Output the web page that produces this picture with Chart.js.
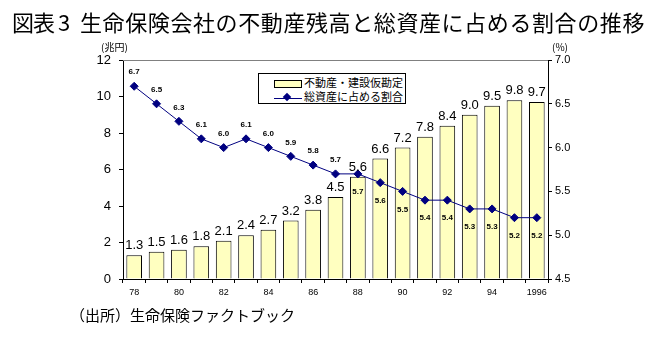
<!DOCTYPE html>
<html>
<head>
<meta charset="utf-8">
<script src="https://cdn.jsdelivr.net/npm/chart.js@4/dist/chart.umd.min.js"></script>
<style>
  html, body { margin: 0; padding: 0; background: #fff; }
  #wrap { position: relative; width: 650px; height: 337px; overflow: hidden; }
  #chart { position: absolute; left: 0; top: 0; }
  .txt { position: absolute; font-family: "Noto Sans CJK JP", sans-serif; color: #000; white-space: nowrap; }
  .title { top: 5px; font-size: 22px; line-height: 32px; letter-spacing: 0.6px; }
  #source { left: 70px; top: 304px; font-size: 15px; }
  #legend { position: absolute; left: 258px; top: 73px; width: 146px; height: 29px; border: 1px solid #000; background: #fff;
            font-family: "Noto Sans CJK JP", sans-serif; font-size: 11px; }
  .row { position: absolute; left: 15px; height: 14px; line-height: 14px; }
  .sw { display: inline-block; width: 26px; height: 6px; background: #ffffc0; border: 1px solid #000; vertical-align: middle; margin-right: 2px; }
  .ln { display: inline-block; position: relative; width: 28px; height: 1px; background: #000080; vertical-align: middle; margin-right: 2px; }
  .ln i { position: absolute; left: 10px; top: -4px; width: 6px; height: 6px; background: #000080; transform: rotate(45deg); }
</style>
</head>
<body>
<div id="wrap">
  <canvas id="chart" width="650" height="337"></canvas>
  <div class="txt title" style="left:12px;letter-spacing:-1px">図表<span style="margin-left:4px">3</span></div>
  <div class="txt title" style="left:80px">生命保険会社の不動産残高と総資産に占める割合の推移</div>
  <div id="legend">
    <div class="row" style="top:1px"><span class="sw"></span>不動産・建設仮勘定</div>
    <div class="row" style="top:15px"><span class="ln"><i></i></span>総資産に占める割合</div>
  </div>
  <div id="source" class="txt">（出所）生命保険ファクトブック</div>
</div>
<script>
// --- data ---
const years = ['78','79','80','81','82','83','84','85','86','87','88','89','90','91','92','93','94','95','1996'];
const realEstate = [1.3, 1.5, 1.6, 1.8, 2.1, 2.4, 2.7, 3.2, 3.8, 4.5, 5.6, 6.6, 7.2, 7.8, 8.4, 9.0, 9.5, 9.8, 9.7];
const shareOfAssets = [6.7, 6.5, 6.3, 6.1, 6.0, 6.1, 6.0, 5.9, 5.8, 5.7, 5.7, 5.6, 5.5, 5.4, 5.4, 5.3, 5.3, 5.2, 5.2];
const leftTicks = [0, 2, 4, 6, 8, 10, 12];
const rightTicks = [4.5, 5.0, 5.5, 6.0, 6.5, 7.0];

const NAVY = '#000080';
const NUM_FONT = '"Liberation Sans", Arial, sans-serif';

// value labels + frame bits that Chart.js does not draw itself
const extras = {
  id: 'extras',
  afterDatasetsDraw(chart) {
    const ctx = chart.ctx;
    const area = chart.chartArea;
    ctx.save();

    // top border of the plot area
    ctx.strokeStyle = '#808080';
    ctx.lineWidth = 1;
    ctx.beginPath();
    ctx.moveTo(area.left, area.top + 0.5);
    ctx.lineTo(area.right, area.top + 0.5);
    ctx.stroke();

    ctx.fillStyle = '#000';
    ctx.textAlign = 'center';

    // bar labels (dataset 1 is the bar series)
    ctx.font = '13px ' + NUM_FONT;
    ctx.textBaseline = 'bottom';
    chart.getDatasetMeta(1).data.forEach((bar, i) => {
      ctx.fillText(realEstate[i].toFixed(1), bar.x, bar.y - 3);
    });

    // line labels: above until 87, below afterwards
    ctx.font = 'bold 8px ' + NUM_FONT;
    ctx.textBaseline = 'middle';
    chart.getDatasetMeta(0).data.forEach((pt, i) => {
      const dy = i < 10 ? -14 : 18;
      ctx.fillText(shareOfAssets[i].toFixed(1), pt.x, pt.y + dy);
    });

    // unit labels
    ctx.font = '10px "Noto Sans CJK JP", sans-serif';
    ctx.textBaseline = 'middle';
    ctx.textAlign = 'left';
    ctx.fillText('(兆円)', 101, 47);
    ctx.fillText('(%)', 552, 47);
    ctx.restore();
  }
};

new Chart(document.getElementById('chart'), {
  data: {
    labels: years,
    datasets: [
      {
        type: 'line',
        label: '総資産に占める割合',
        data: shareOfAssets,
        yAxisID: 'y1',
        borderColor: NAVY,
        borderWidth: 1,
        pointStyle: 'rectRot',
        pointRadius: 4,
        pointBackgroundColor: NAVY,
        pointBorderColor: NAVY,
        tension: 0,
        order: 0
      },
      {
        type: 'bar',
        label: '不動産・建設仮勘定',
        data: realEstate,
        yAxisID: 'y',
        backgroundColor: '#ffffc0',
        borderColor: '#000',
        borderWidth: 1,
        barPercentage: 0.7,
        categoryPercentage: 1,
        order: 1
      }
    ]
  },
  options: {
    responsive: false,
    animation: false,
    layout: { padding: { top: 60, left: 0, right: 0, bottom: 0 } },
    plugins: { legend: { display: false }, tooltip: { enabled: false } },
    scales: {
      x: {
        offset: true,
        grid: { display: true, drawOnChartArea: false, offset: true, color: '#000', tickLength: 4 },
        border: { color: '#000' },
        ticks: {
          autoSkip: false, maxRotation: 0, padding: 4,
          color: '#000', font: { size: 9, family: NUM_FONT },
          callback: (v, i) => (i % 2 === 0 ? years[i] : '')
        },
        afterFit: s => { s.height = 58; }
      },
      y: {
        position: 'left',
        min: 0, max: 12,
        afterBuildTicks: s => { s.ticks = leftTicks.map(v => ({ value: v })); },
        grid: { display: true, drawOnChartArea: false, color: '#000', tickLength: 4 },
        border: { color: '#000' },
        ticks: { color: '#000', padding: 8, font: { size: 13, family: NUM_FONT } },
        afterFit: s => { s.width = 123; }
      },
      y1: {
        position: 'right',
        min: 4.5, max: 7.0,
        afterBuildTicks: s => { s.ticks = rightTicks.map(v => ({ value: v })); },
        grid: { display: true, drawOnChartArea: false, color: '#000', tickLength: 4 },
        border: { color: '#000' },
        ticks: { color: '#000', padding: 3, font: { size: 11, family: NUM_FONT }, callback: v => Number(v).toFixed(1) },
        afterFit: s => { s.width = 102; }
      }
    }
  },
  plugins: [extras]
});
</script>
</body>
</html>
